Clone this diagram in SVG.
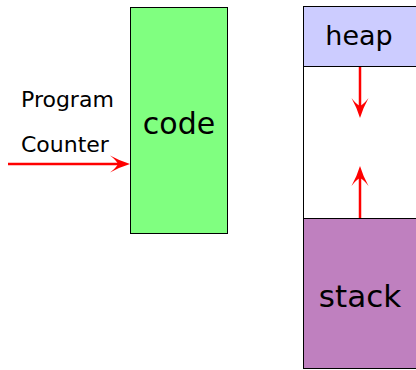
<svg xmlns="http://www.w3.org/2000/svg" width="416" height="370" viewBox="0 0 416 370">
<style>
text{font-family:"DejaVu Sans","Liberation Sans",sans-serif;fill:#000}
.box{stroke:#000;stroke-width:1}
.arr{stroke:#ff0000;stroke-width:2.5;fill:none}
.head{fill:#ff0000;stroke:none}
</style>
<defs>
<path id="ahd" d="M0,0 Q-3,-10 -8.5,-20 Q-4,-14 0,-12 Q4,-14 8.5,-20 Q3,-10 0,0 Z"/>
</defs>
<rect width="416" height="370" fill="#fff"/>
<g id="code">
<rect class="box" x="130.5" y="7.5" width="97" height="226" fill="#80ff80"/>
<text x="179" y="134" font-size="30" text-anchor="middle">code</text>
</g>
<g id="memory">
<rect class="box" x="303.5" y="6.5" width="120" height="362" fill="#fff" stroke-width="1.5"/>
</g>
<g id="heap">
<rect class="box" x="303.5" y="6.5" width="120" height="60" fill="#ccccff"/>
<text x="359" y="45" font-size="27" text-anchor="middle">heap</text>
</g>
<g id="stack">
<rect class="box" x="303.5" y="218.5" width="120" height="150" fill="#bf80bf"/>
<text x="360" y="307" font-size="31" text-anchor="middle">stack</text>
</g>
<g id="pc-label">
<text x="21" y="107" font-size="22">Program</text>
<text x="21" y="152" font-size="22">Counter</text>
</g>
<g id="connectors">
<line class="arr" x1="8" y1="164" x2="124" y2="164"/>
<use href="#ahd" class="head" transform="translate(130,164) rotate(-90)"/>
<line class="arr" x1="360" y1="67" x2="360" y2="112"/>
<use href="#ahd" class="head" transform="translate(360,118)"/>
<line class="arr" x1="360" y1="218" x2="360" y2="172"/>
<use href="#ahd" class="head" transform="translate(360,166) rotate(180)"/>
</g>
</svg>
